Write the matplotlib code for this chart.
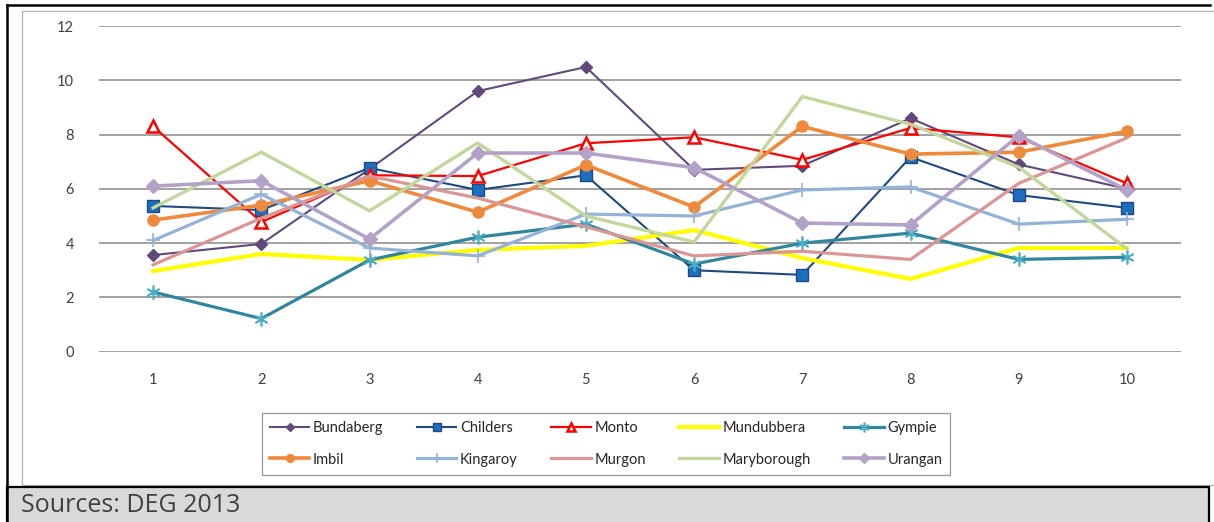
import matplotlib
matplotlib.use("Agg")
import matplotlib.pyplot as plt
from matplotlib.lines import Line2D
from matplotlib.patches import Rectangle

plt.rcParams["font.family"] = ["Lato", "DejaVu Sans"]

# data
periods = [1, 2, 3, 4, 5, 6, 7, 8, 9, 10]
bundaberg = [3.56, 3.97, 6.73, 9.6, 10.49, 6.7, 6.85, 8.6, 6.9, 6.0]
childers = [5.37, 5.22, 6.77, 5.96, 6.5, 3.0, 2.83, 7.17, 5.77, 5.3]
monto = [8.3, 4.78, 6.5, 6.47, 7.68, 7.9, 7.07, 8.24, 7.9, 6.2]
mundubbera = [2.97, 3.6, 3.38, 3.75, 3.9, 4.48, 3.45, 2.68, 3.82, 3.82]
gympie = [2.2, 1.22, 3.38, 4.22, 4.7, 3.23, 4.0, 4.37, 3.4, 3.48]
imbil = [4.85, 5.4, 6.3, 5.14, 6.88, 5.33, 8.3, 7.28, 7.35, 8.12]
kingaroy = [4.1, 5.8, 3.82, 3.53, 5.07, 5.0, 5.96, 6.07, 4.7, 4.88]
murgon = [3.2, 4.92, 6.47, 5.66, 4.6, 3.53, 3.7, 3.4, 6.2, 7.88]
maryborough = [5.3, 7.35, 5.19, 7.69, 5.0, 4.04, 9.4, 8.38, 6.8, 3.79]
urangan = [6.1, 6.3, 4.15, 7.32, 7.32, 6.78, 4.74, 4.67, 7.96, 5.95]

series = [
    ("Bundaberg", bundaberg, dict(color="#604A7B", lw=1.5, marker="D", ms=6)),
    ("Childers", childers, dict(color="#1F497D", lw=1.5, marker="s", ms=8,
                                mfc="#1C6EC0", mec="#1F497D")),
    ("Monto", monto, dict(color="#FF0000", lw=1.6, marker="^", ms=9,
                          mfc="white", mec="#FF0000", mew=1.8)),
    ("Mundubbera", mundubbera, dict(color="#FFFF00", lw=3.0)),
    ("Gympie", gympie, dict(color="#31859C", lw=2.3, marker=(6, 2, 0), ms=10,
                            mec="#4BACC6", mew=1.2)),
    ("Imbil", imbil, dict(color="#EF8A3D", lw=2.6, marker="o", ms=8)),
    ("Kingaroy", kingaroy, dict(color="#95B3D7", lw=2.3, marker="+", ms=10, mew=1.2)),
    ("Murgon", murgon, dict(color="#D99694", lw=2.3)),
    ("Maryborough", maryborough, dict(color="#C3D69B", lw=2.4)),
    ("Urangan", urangan, dict(color="#B3A2C7", lw=2.6, marker="D", ms=7)),
]

W, H = 1214, 522
fig = plt.figure(figsize=(W / 100, H / 100), dpi=100)

# page frame pieces
fig.add_artist(Rectangle((22 / W, 1 - 485 / H), 1220 / W, 474 / H, transform=fig.transFigure,
                         fill=False, ec="#B4B4B4", lw=0.9))
fig.add_artist(Rectangle((7 / W, -10 / H), 1202 / W, 45 / H, transform=fig.transFigure,
                         fc="#D9D9D9", ec="black", lw=1.6))
fig.add_artist(Line2D([7 / W, 7 / W], [0, 1 - 5 / H], transform=fig.transFigure,
                      color="black", lw=1.8))
fig.add_artist(Line2D([7 / W, 1210 / W], [1 - 5 / H, 1 - 5 / H], transform=fig.transFigure,
                      color="black", lw=1.8))
fig.text(21 / W, 1 - 505 / H, "Sources: DEG 2013", family=["Open Sans", "DejaVu Sans"],
         fontsize=18, color="#404040", va="center", ha="left")

ax = fig.add_axes([99 / W, 1 - 351.7 / H, 1082 / W, 325.7 / H])
handles = {}
for name, vals, style in series:
    (ln,) = ax.plot(periods, vals, label=name, solid_joinstyle="miter", **style)
    handles[name] = ln

ax.set_xlim(0.5, 10.5)
ax.set_ylim(0, 12)
ax.set_yticks(range(0, 13, 2))
ax.set_xticks(periods)
ax.grid(axis="y", color="#878787", lw=1.1)
ax.set_axisbelow(True)
for s in ax.spines.values():
    s.set_visible(False)
ax.tick_params(length=0, labelsize=10.5, labelcolor="#404040")
ax.tick_params(axis="x", pad=15)
ax.tick_params(axis="y", pad=18)

# legend filled row-wise like the original (matplotlib fills by column)
rows = [["Bundaberg", "Childers", "Monto", "Mundubbera", "Gympie"],
        ["Imbil", "Kingaroy", "Murgon", "Maryborough", "Urangan"]]
order = [rows[r][c] for c in range(5) for r in range(2)]
leg = fig.legend([handles[n] for n in order], order, ncol=5,
                 loc="upper left", bbox_to_anchor=(262 / W, 1 - 413 / H),
                 frameon=True, fancybox=False, edgecolor="#7F7F7F", fontsize=10.5,
                 handlelength=2.7, handletextpad=0.25, columnspacing=2.3,
                 labelspacing=1.2, borderpad=0.55, borderaxespad=0, markerscale=0.7)
leg.get_frame().set_linewidth(0.9)
for t in leg.get_texts():
    t.set_color("#262626")

fig.savefig("out.png", dpi=100)
